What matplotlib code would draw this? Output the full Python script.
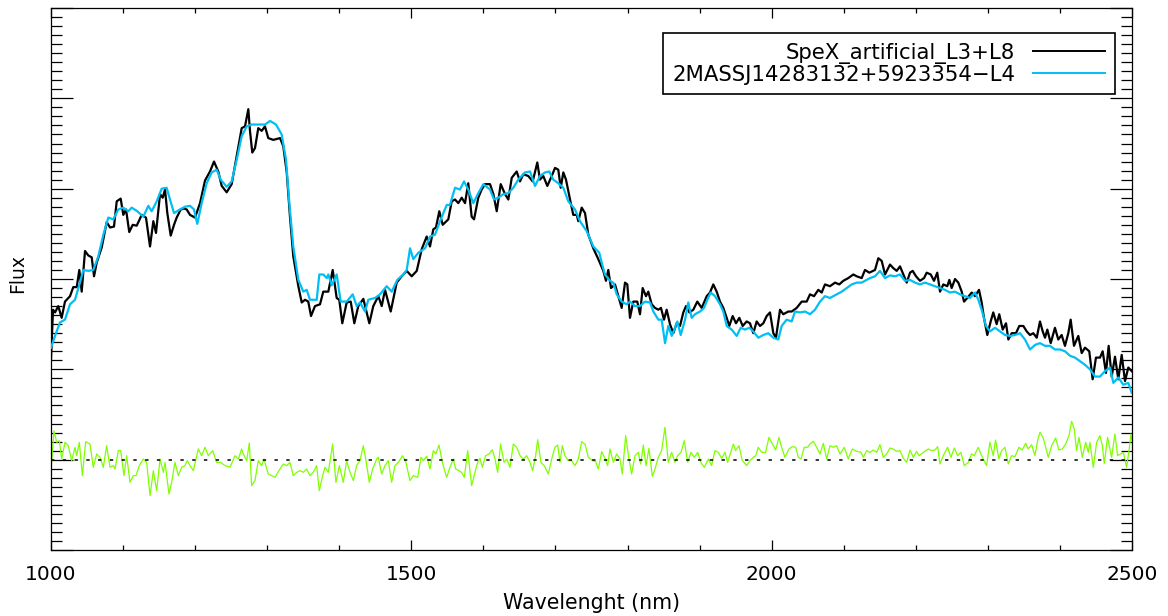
import matplotlib
matplotlib.use("Agg")
import matplotlib.pyplot as plt
from matplotlib.ticker import MultipleLocator, NullFormatter

# ---------------- data ----------------
spex_label = "SpeX_artificial_L3+L8"
ref_label = "2MASSJ14283132+5923354\u2212L4"
x_label = "Wavelenght (nm)"
y_label = "Flux"
x_ticks = [1000, 1500, 2000, 2500]
zero_level = 0.0

spex_points = [
(1000,1.11),(1002.8,1.66),(1005.6,1.63),(1010.1,1.70),(1014.8,1.57),(1019.4,1.75),(1026.4,1.81),(1030.9,1.91),
(1035.7,1.91),(1039.3,2.10),(1042.6,1.86),(1047.2,2.31),(1051.8,2.26),(1056.5,2.24),(1059.7,2.03),(1063.4,2.18),
(1070.4,2.35),(1077.3,2.63),(1081.9,2.57),(1087.4,2.58),(1091.2,2.86),(1096.7,2.89),(1100.3,2.71),(1104.1,2.77),
(1108.6,2.52),(1113.4,2.60),(1118.9,2.59),(1125.9,2.71),(1131.8,2.68),(1137.4,2.36),(1142.0,2.64),(1145.7,2.51),
(1151.3,2.94),(1155.0,2.90),(1158.2,2.99),(1161.4,2.73),(1166.1,2.48),(1170.7,2.60),(1174.4,2.68),(1180.0,2.77),
(1184.5,2.78),(1188.3,2.77),(1192.9,2.71),(1199.8,2.68),(1206.8,2.84),(1213.7,3.09),(1220.6,3.19),(1226.2,3.30),
(1232.1,3.19),(1236.9,3.03),(1243.8,2.96),(1250.7,3.05),(1257.7,3.36),(1264.6,3.67),(1269.2,3.69),(1273.8,3.88),
(1276.1,3.64),(1279.3,3.40),(1283.1,3.45),(1287.6,3.67),(1292.4,3.64),(1296.9,3.69),(1301.5,3.56),(1308.5,3.54),
(1317.8,3.56),(1322.3,3.47),(1327.1,3.18),(1331.6,2.69),(1336.2,2.25),(1343.2,1.92),(1347.9,1.74),(1352.5,1.77),
(1357.0,1.75),(1360.8,1.59),(1366.3,1.70),(1373.3,1.72),(1377.8,1.86),(1384.8,1.86),(1390.9,2.10),(1396.4,1.79),
(1400.0,1.77),(1404.2,1.51),(1410.3,1.74),(1415.9,1.75),(1420.9,1.51),(1426.4,1.70),(1433.4,1.78),(1441.7,1.51),
(1447.2,1.70),(1454.2,1.81),(1458.9,1.70),(1463.5,1.88),(1471.4,1.64),(1479.7,1.96),(1486.6,2.03),(1493.6,2.09),
(1500.5,2.03),(1507.5,2.09),(1514.4,2.33),(1521.3,2.47),(1525.9,2.36),(1530.5,2.55),(1534.2,2.57),(1538.8,2.75),
(1543.5,2.60),(1551.3,2.66),(1556.0,2.86),(1560.6,2.88),(1565.2,2.84),(1569.9,2.90),(1574.5,2.84),(1579.0,3.06),
(1583.7,2.69),(1587.0,2.66),(1592.9,2.90),(1597.6,2.99),(1602.2,3.05),(1609.2,3.05),(1613.8,2.94),(1618.5,2.75),
(1624.0,3.05),(1630.0,2.94),(1634.6,2.88),(1639.3,3.12),(1646.2,3.19),(1650.8,3.08),(1655.4,3.16),(1662.3,3.14),
(1668.4,3.08),(1674.8,3.29),(1678.5,3.10),(1683.1,3.14),(1688.7,3.03),(1694.8,3.14),(1699.4,3.23),(1703.9,3.21),
(1707.3,3.01),(1710.9,3.18),(1714.6,3.10),(1720.2,2.88),(1724.7,2.71),(1729.5,2.71),(1731.7,2.64),(1736.4,2.79),
(1741.0,2.73),(1745.6,2.49),(1752.5,2.34),(1759.4,2.22),(1766.4,2.09),(1770.1,1.98),(1773.3,2.10),(1777.1,1.90),
(1782.6,1.94),(1787.2,1.81),(1791.9,1.68),(1796.5,1.96),(1799.7,1.94),(1803.4,1.57),(1808.0,1.75),(1813.5,1.75),
(1817.3,1.61),(1821.0,1.90),(1825.6,1.81),(1828.8,1.86),(1833.5,1.72),(1838.1,1.68),(1842.7,1.66),(1846.4,1.68),
(1850.6,1.55),(1854.3,1.66),(1858.9,1.50),(1863.5,1.40),(1868.2,1.51),(1872.8,1.48),(1877.4,1.63),(1881.1,1.70),
(1885.7,1.63),(1891.3,1.66),(1896.8,1.75),(1902.9,1.68),(1909.9,1.81),(1914.4,1.85),(1919.0,1.94),(1923.7,1.86),
(1928.3,1.75),(1932.9,1.68),(1937.6,1.57),(1941.2,1.48),(1945.9,1.59),(1950.5,1.51),(1955.1,1.57),(1959.8,1.48),
(1965.3,1.53),(1969.9,1.51),(1974.5,1.40),(1979.2,1.53),(1983.8,1.48),(1988.4,1.51),(1993.1,1.59),(1997.7,1.63),
(2002.3,1.40),(2006.0,1.35),(2011.6,1.66),(2016.1,1.61),(2023.1,1.64),(2027.8,1.64),(2034.7,1.68),(2041.7,1.75),
(2048.6,1.75),(2053.2,1.83),(2058.8,1.81),(2064.7,1.88),(2069.4,1.85),(2074.0,1.94),(2080.9,1.92),(2087.9,1.96),
(2093.8,1.94),(2099.4,1.98),(2106.3,2.01),(2113.3,2.05),(2118.0,2.03),(2124.9,2.01),(2129.5,2.10),(2135.5,2.07),
(2143.4,2.10),(2148.0,2.23),(2152.7,2.20),(2157.3,2.05),(2164.2,2.16),(2168.8,2.12),(2173.5,2.09),(2178.1,2.14),
(2182.7,2.05),(2187.4,1.96),(2192.0,2.07),(2195.7,2.09),(2200.3,2.03),(2205.8,1.98),(2211.4,2.01),(2215.1,2.07),
(2220.7,2.05),(2225.3,1.98),(2229.8,2.07),(2233.6,1.86),(2238.2,1.94),(2243.7,1.92),(2246.5,1.99),(2249.8,1.90),
(2254.4,2.00),(2259.0,1.96),(2263.7,1.86),(2266.9,1.75),(2271.5,1.79),(2277.6,1.85),(2282.2,1.81),(2287.7,1.88),
(2291.4,1.74),(2294.6,1.57),(2299.2,1.38),(2303.9,1.53),(2307.5,1.63),(2312.2,1.50),(2315.8,1.61),(2320.6,1.44),
(2325.2,1.51),(2328.4,1.33),(2333.1,1.40),(2339.0,1.40),(2343.6,1.48),(2349.2,1.48),(2353.9,1.42),(2358.5,1.38),
(2363.0,1.40),(2367.8,1.35),(2372.3,1.53),(2376.1,1.42),(2379.3,1.35),(2382.5,1.44),(2387.2,1.29),(2393.1,1.46),
(2397.7,1.33),(2402.4,1.38),(2407.0,1.26),(2411.6,1.40),(2414.9,1.55),(2419.5,1.26),(2425.5,1.37),(2430.2,1.18),
(2434.8,1.24),(2440.7,1.20),(2445.4,0.89),(2450.0,1.13),(2455.6,1.13),(2459.3,1.20),(2463.9,0.96),(2467.6,1.26),
(2471.8,0.92),(2476.4,1.14),(2481.0,0.89),(2485.7,1.16),(2490.3,0.87),(2494.9,1.02),(2499.6,0.98),
]

ref_points = [
(1000,1.24),(1005.6,1.37),(1012.5,1.52),(1019.4,1.55),(1026.4,1.72),(1033.3,1.77),(1040.2,1.96),(1044.8,2.10),
(1051.8,2.09),(1058.7,2.10),(1065.6,2.25),(1072.6,2.49),(1079.5,2.68),(1086.4,2.66),(1093.4,2.77),(1100.3,2.79),
(1107.3,2.75),(1112.0,2.79),(1119.7,2.75),(1128.1,2.69),(1135.0,2.81),(1139.7,2.75),(1146.7,2.86),(1153.6,3.00),
(1160.5,3.01),(1165.1,2.88),(1170.7,2.73),(1179.0,2.77),(1185.9,2.80),(1192.9,2.81),(1198.4,2.77),(1203.0,2.61),
(1209.1,2.84),(1216.0,3.06),(1223.0,3.18),(1229.9,3.21),(1235.5,3.10),(1243.8,3.02),(1250.7,3.08),(1257.7,3.32),
(1264.6,3.58),(1271.6,3.69),(1278.5,3.71),(1287.6,3.71),(1297.0,3.71),(1303.9,3.75),(1312.2,3.71),(1320.1,3.60),
(1326.1,3.32),(1330.7,2.84),(1336.2,2.36),(1343.2,1.99),(1350.1,1.86),(1354.8,1.88),(1359.4,1.77),(1368.7,1.77),
(1372.3,2.05),(1377.8,2.05),(1382.6,2.01),(1384.8,2.05),(1389.5,1.93),(1396.4,2.05),(1402.0,1.75),(1410.3,1.75),
(1418.6,1.83),(1424.2,1.70),(1428.8,1.74),(1435.7,1.64),(1440.3,1.77),(1449.6,1.79),(1456.5,1.83),(1465.8,1.92),
(1472.8,1.86),(1480.5,1.99),(1488.9,2.05),(1493.6,2.10),(1498.2,2.34),(1502.7,2.22),(1509.7,2.29),(1519.0,2.34),
(1525.9,2.47),(1532.8,2.49),(1539.8,2.64),(1549.1,2.82),(1553.6,2.82),(1560.6,3.01),(1567.5,2.99),(1573.1,3.08),
(1579.0,2.99),(1586.0,2.84),(1592.9,2.95),(1599.9,3.05),(1609.2,2.99),(1614.7,2.88),(1620.7,2.90),(1627.6,2.94),
(1634.6,2.95),(1641.5,3.01),(1648.4,3.10),(1657.7,3.18),(1664.7,3.19),(1671.6,3.03),(1678.5,3.14),(1685.5,3.18),
(1691.4,3.19),(1697.0,3.10),(1703.9,3.06),(1710.9,3.01),(1717.8,2.86),(1727.1,2.77),(1734.0,2.64),(1743.3,2.53),
(1752.5,2.36),(1760.8,2.29),(1764.2,2.18),(1768.7,2.05),(1775.7,1.98),(1780.2,1.96),(1785.0,1.83),(1791.9,1.75),
(1798.8,1.72),(1803.4,1.75),(1810.4,1.70),(1817.3,1.70),(1824.2,1.75),(1831.2,1.74),(1835.8,1.64),(1842.7,1.55),
(1847.4,1.55),(1852.0,1.29),(1856.6,1.48),(1861.3,1.37),(1865.9,1.46),(1869.1,1.53),(1873.8,1.38),(1879.8,1.55),
(1884.3,1.74),(1889.0,1.57),(1893.6,1.61),(1900.6,1.64),(1906.1,1.68),(1910.7,1.77),(1915.4,1.85),(1921.4,1.81),
(1928.3,1.72),(1932.9,1.64),(1937.6,1.48),(1944.5,1.44),(1951.5,1.37),(1957.0,1.46),(1963.0,1.44),(1969.0,1.46),
(1974.5,1.42),(1981.5,1.35),(1988.4,1.38),(1995.3,1.40),(2002.3,1.35),(2009.2,1.33),(2013.9,1.48),(2020.8,1.55),
(2027.8,1.53),(2032.4,1.64),(2039.3,1.63),(2046.3,1.64),(2053.2,1.61),(2060.1,1.66),(2067.1,1.75),(2074.0,1.81),
(2080.9,1.79),(2090.2,1.83),(2097.2,1.86),(2104.1,1.90),(2111.1,1.94),(2118.0,1.96),(2124.9,1.96),(2131.9,1.99),
(2136.4,2.01),(2143.4,2.03),(2150.3,2.09),(2157.3,2.01),(2164.2,2.04),(2171.2,2.03),(2178.1,2.05),(2185.0,1.98),
(2192.0,1.99),(2198.9,1.96),(2205.8,1.94),(2212.8,1.96),(2219.7,1.94),(2226.7,1.92),(2233.6,1.90),(2240.5,1.88),
(2247.5,1.85),(2254.4,1.86),(2261.3,1.83),(2268.3,1.81),(2275.2,1.79),(2282.2,1.85),(2286.8,1.77),(2291.4,1.66),
(2297.4,1.48),(2303.0,1.42),(2309.9,1.46),(2316.8,1.42),(2323.8,1.38),(2330.7,1.37),(2337.6,1.38),(2344.6,1.40),
(2351.5,1.33),(2358.5,1.22),(2365.4,1.27),(2372.3,1.29),(2379.3,1.26),(2386.2,1.26),(2393.1,1.22),(2400.1,1.22),
(2407.0,1.20),(2414.0,1.15),(2420.9,1.13),(2427.8,1.09),(2434.8,1.05),(2441.7,1.00),(2448.7,0.92),(2455.6,0.92),
(2462.5,0.98),(2469.5,1.02),(2474.1,0.85),(2481.0,0.91),(2487.9,0.83),(2494.9,0.85),(2499.6,0.74),
]

resid_points = [
(1000,-0.122),(1004.2,0.321),(1007.9,0.192),(1011.6,0.210),(1014.8,0.007),(1019.4,0.192),(1024.0,0.155),(1028.7,-0.011),
(1033.3,0.137),(1035.6,0.044),(1039.3,0.192),(1043.5,-0.177),(1048.1,0.199),(1054.1,0.173),(1058.7,-0.085),(1063.4,0.063),
(1068.0,0.026),(1072.6,-0.085),(1077.2,0.155),(1081.9,-0.085),(1086.5,-0.066),(1088.8,-0.103),(1093.4,0.100),(1096.7,0.100),
(1101.3,-0.177),(1105.0,0.044),(1109.6,-0.251),(1114.2,-0.177),(1117.9,-0.177),(1122.5,-0.066),(1128.1,0.007),(1132.7,-0.030),
(1137.4,-0.399),(1142.0,-0.122),(1146.6,-0.343),(1151.3,0.007),(1155.9,-0.140),(1158.2,-0.030),(1163.7,-0.380),(1167.4,-0.251),
(1172.0,-0.030),(1176.7,-0.177),(1181.3,-0.085),(1185.9,-0.066),(1189.2,-0.011),(1192.9,-0.066),(1197.5,-0.122),(1204.4,0.118),
(1209.0,0.044),(1213.7,0.137),(1218.3,0.044),(1224.3,0.100),(1229.9,-0.030),(1235.4,-0.030),(1241.4,-0.066),(1248.4,-0.085),
(1255.3,0.044),(1259.9,0.007),(1264.5,0.118),(1266.9,0.063),(1271.5,-0.011),(1275.2,0.185),(1278.4,-0.288),(1283.0,-0.232),
(1287.7,-0.011),(1292.3,-0.066),(1295.5,0.007),(1301.5,-0.159),(1306.2,-0.177),(1310.8,-0.196),(1317.7,-0.103),(1322.4,-0.048),
(1327.0,-0.066),(1331.6,-0.030),(1336.2,-0.177),(1340.9,-0.140),(1345.5,-0.122),(1350.1,-0.140),(1354.7,-0.103),(1359.4,-0.177),
(1364.0,-0.140),(1368.6,-0.066),(1372.3,-0.343),(1376.9,-0.177),(1380.2,-0.085),(1384.8,-0.140),(1390.8,0.173),(1395.4,-0.251),
(1400.1,-0.066),(1405.6,-0.251),(1410.2,-0.011),(1414.9,-0.140),(1419.5,-0.232),(1424.1,-0.066),(1428.7,-0.011),(1433.4,0.155),
(1437.1,-0.011),(1441.7,-0.251),(1446.3,-0.103),(1451.9,0.007),(1454.2,0.026),(1458.8,-0.159),(1463.4,-0.066),(1468.0,-0.011),
(1472.7,-0.251),(1477.3,-0.066),(1481.9,-0.030),(1487.9,0.044),(1492.5,-0.030),(1498.1,-0.232),(1502.8,-0.177),(1508.8,-0.196),
(1513.4,0.026),(1516.6,-0.011),(1521.3,0.037),(1525.9,-0.103),(1530.5,0.100),(1533.8,0.063),(1538.4,0.162),(1543.0,-0.030),
(1549.0,-0.196),(1553.6,-0.085),(1558.3,0.007),(1561.5,-0.103),(1566.1,-0.122),(1569.8,-0.140),(1573.5,-0.196),(1578.2,0.100),
(1583.7,-0.288),(1588.3,-0.140),(1592.0,-0.030),(1595.3,0.015),(1598.5,-0.085),(1603.1,0.044),(1607.8,0.063),(1612.4,0.111),
(1616.1,0.007),(1619.8,-0.140),(1623.9,0.173),(1628.6,-0.030),(1632.3,0.007),(1636.9,-0.085),(1641.5,0.173),(1646.1,0.137),
(1650.8,0.044),(1655.4,0.007),(1660.0,0.044),(1664.6,-0.030),(1668.3,-0.122),(1672.5,0.044),(1675.3,0.221),(1679.9,-0.030),
(1684.5,-0.066),(1690.1,-0.159),(1694.7,0.007),(1699.3,0.137),(1703.0,0.162),(1706.3,-0.030),(1709.5,0.155),(1713.2,0.044),
(1717.8,-0.011),(1722.5,-0.011),(1727.1,-0.066),(1731.7,0.007),(1736.3,0.199),(1741.0,0.173),(1745.6,0.026),(1751.1,-0.011),
(1755.7,-0.022),(1759.5,-0.103),(1764.1,0.089),(1768.7,0.015),(1772.4,-0.066),(1775.6,0.118),(1780.3,-0.030),(1784.9,0.063),
(1789.5,0.007),(1792.7,-0.159),(1797.4,0.266),(1802.0,0.007),(1805.7,-0.159),(1810.3,0.044),(1814.9,0.081),(1818.2,-0.048),
(1821.9,0.162),(1825.6,-0.066),(1829.7,0.125),(1834.4,-0.185),(1838.1,-0.103),(1842.7,0.026),(1847.3,0.100),(1851.9,0.358),
(1856.6,-0.030),(1861.2,0.081),(1865.8,-0.030),(1869.5,0.044),(1874.1,0.081),(1878.8,0.210),(1883.4,-0.030),(1888.0,0.081),
(1892.6,0.026),(1897.3,0.081),(1901.9,-0.030),(1906.5,-0.085),(1912.1,0.007),(1916.7,-0.066),(1921.3,0.100),(1925.9,0.081),
(1930.6,0.015),(1935.2,0.081),(1938.9,-0.030),(1946.8,0.173),(1950.0,0.100),(1954.6,0.155),(1959.3,-0.011),(1965.3,-0.066),
(1969.9,-0.011),(1974.5,0.026),(1977.8,0.044),(1981.4,0.137),(1986.1,0.081),(1991.6,0.081),(1996.2,0.247),(2002.3,0.155),
(2005.5,0.107),(2010.1,0.247),(2013.8,0.137),(2018.4,0.026),(2024.0,0.118),(2028.6,0.144),(2033.3,0.137),(2037.0,0.026),
(2040.7,0.007),(2045.3,0.137),(2049.9,0.137),(2053.1,0.173),(2057.8,0.203),(2062.4,0.137),(2067.0,0.063),(2071.6,0.181),
(2076.3,0.007),(2080.9,0.155),(2085.5,0.137),(2090.1,0.155),(2094.8,0.063),(2100.8,0.137),(2106.3,0.007),(2111.9,0.118),
(2117.9,0.092),(2123.9,0.081),(2127.1,0.026),(2131.8,0.100),(2136.4,0.081),(2141.0,0.107),(2145.6,0.081),(2150.3,0.166),
(2154.9,0.026),(2159.5,0.063),(2164.1,0.129),(2168.8,0.118),(2173.4,0.092),(2178.0,0.100),(2182.6,0.018),(2187.3,-0.030),
(2191.9,0.107),(2196.5,0.026),(2201.1,0.092),(2204.4,0.044),(2209.0,0.070),(2213.6,0.100),(2217.3,0.118),(2222.0,0.100),
(2226.6,0.107),(2230.3,0.144),(2233.5,-0.048),(2238.1,0.044),(2244.1,0.137),(2248.8,0.026),(2253.4,0.129),(2258.0,0.044),
(2262.6,0.081),(2267.3,-0.066),(2272.8,-0.030),(2277.4,0.063),(2281.1,0.044),(2286.6,0.137),(2291.3,0.044),(2298.2,-0.066),
(2302.8,0.192),(2307.5,0.044),(2310.7,0.218),(2315.3,0.007),(2319.0,0.100),(2323.7,0.137),(2328.3,-0.048),(2332.9,0.044),
(2337.6,0.033),(2343.1,0.137),(2347.7,0.107),(2352.4,0.181),(2356.0,0.118),(2360.7,0.166),(2365.3,0.044),(2369.0,0.210),
(2372.3,0.303),(2376.9,0.240),(2380.2,0.137),(2383.8,0.026),(2388.5,0.155),(2394.0,0.240),(2398.6,0.107),(2403.3,0.118),
(2407.9,0.173),(2412.5,0.266),(2416.2,0.424),(2419.9,0.339),(2423.1,0.100),(2426.4,0.247),(2431.0,0.026),(2435.6,0.192),
(2439.3,0.081),(2441.6,0.192),(2446.3,-0.085),(2450.9,0.192),(2455.5,0.266),(2458.8,0.155),(2461.5,-0.041),(2466.1,0.247),
(2471.7,0.026),(2476.3,0.284),(2480.0,0.044),(2487.9,0.081),(2492.5,-0.085),(2495.8,0.100),(2498.5,0.284),(2500,0.210),
]

spex_wl, spex_flux = map(list, zip(*spex_points))
ref_wl, ref_flux = map(list, zip(*ref_points))
resid_wl, resid_flux = map(list, zip(*resid_points))

# ---------------- figure ----------------
plt.rcParams['font.family'] = ['DejaVu Sans']
fig = plt.figure(figsize=(11.68, 6.16), dpi=100)
ax = fig.add_axes([51/1168, 1-550/616, 1081/1168, 542/616])

ax.plot(resid_wl, resid_flux, color='#7FFF00', lw=0.9, zorder=2)
ax.axhline(zero_level, color='black', lw=1.1, dashes=(2.2, 5.5), zorder=3)
ax.plot(spex_wl, spex_flux, color='black', lw=1.6, label=spex_label, zorder=4)
ax.plot(ref_wl, ref_flux, color='#00BFF5', lw=1.6, label=ref_label, zorder=5)

ax.set_xlim(1000, 2500)
ax.set_ylim(-1, 5)
ax.set_xticks(x_ticks)
ax.xaxis.set_minor_locator(MultipleLocator(100))
ax.yaxis.set_major_locator(MultipleLocator(1))
ax.yaxis.set_minor_locator(MultipleLocator(0.1))
ax.yaxis.set_major_formatter(NullFormatter())

ax.tick_params(axis='both', which='both', direction='in', top=True, right=True, colors='black')
ax.tick_params(axis='x', which='major', length=7.5, width=0.9, labelsize=14.5, pad=11)
ax.tick_params(axis='x', which='minor', length=3.7, width=0.9)
ax.tick_params(axis='y', which='major', length=15.8, width=0.9)
ax.tick_params(axis='y', which='minor', length=7.9, width=0.9)
for s in ax.spines.values():
    s.set_linewidth(0.9)

ax.set_xlabel(x_label, fontsize=14.8, labelpad=6)
ax.set_ylabel(y_label, fontsize=13.5)
ax.yaxis.set_label_coords(-0.0225, 0.51)

leg = ax.legend(loc='upper right', bbox_to_anchor=((1115-51)/1081, (550-33)/542),
                borderaxespad=0, markerfirst=False, fancybox=False, frameon=True,
                fontsize=15.3, handlelength=3.4, handletextpad=0.85, borderpad=0.45,
                labelspacing=0.05, framealpha=1)
leg.get_frame().set_edgecolor('black')
leg.get_frame().set_linewidth(1.2)
for line in leg.get_lines():
    line.set_linewidth(1.4)

fig.savefig('out.png', dpi=100)
